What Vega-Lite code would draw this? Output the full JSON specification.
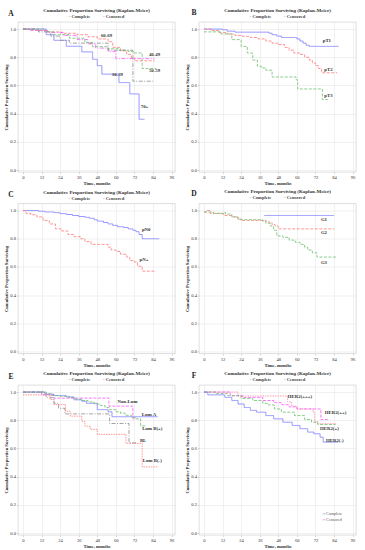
{
"$schema": "https://vega.github.io/schema/vega-lite/v6.json",
"padding": {"left": 2, "top": 7, "right": 2, "bottom": 1},
"background": "white",
"resolve": {"scale": {"color": "independent", "strokeDash": "independent"}},
"config": {
 "font": "Liberation Serif",
 "view": {"stroke": "#c8c8c8", "strokeWidth": 0.6},
 "axis": {"labelFontSize": 4.6, "titleFontSize": 4.6, "labelColor": "#333333", "titleColor": "#333333", "gridColor": "#e3e3e3", "gridWidth": 0.5, "domain": false, "tickSize": 1.5, "tickColor": "#aaaaaa", "tickWidth": 0.5, "labelPadding": 1, "titlePadding": 1.5, "titleFontWeight": "bold"},
 "title": {"fontSize": 5, "subtitleFontSize": 4.6, "fontWeight": "bold", "subtitleFontWeight": "bold", "color": "#333333", "subtitleColor": "#444444", "offset": -9.5, "subtitlePadding": 1, "anchor": "middle"},
 "text": {"font": "Liberation Serif"}
},
"datasets": {
 "km": [
  {"p":"A","g":"70+","t":0,"s":1},{"p":"A","g":"70+","t":15,"s":0.96},{"p":"A","g":"70+","t":20,"s":0.92},{"p":"A","g":"70+","t":28,"s":0.878},{"p":"A","g":"70+","t":38,"s":0.838},{"p":"A","g":"70+","t":45,"s":0.785},{"p":"A","g":"70+","t":48,"s":0.74},{"p":"A","g":"70+","t":51,"s":0.68},{"p":"A","g":"70+","t":62,"s":0.62},{"p":"A","g":"70+","t":69,"s":0.54},{"p":"A","g":"70+","t":75,"s":0.36},{"p":"A","g":"70+","t":78.5,"s":0.36},
  {"p":"A","g":"60-69","t":0,"s":1},{"p":"A","g":"60-69","t":8,"s":0.99},{"p":"A","g":"60-69","t":16,"s":0.98},{"p":"A","g":"60-69","t":25,"s":0.97},{"p":"A","g":"60-69","t":35,"s":0.96},{"p":"A","g":"60-69","t":42,"s":0.945},{"p":"A","g":"60-69","t":48,"s":0.93},{"p":"A","g":"60-69","t":55,"s":0.91},{"p":"A","g":"60-69","t":58,"s":0.87},{"p":"A","g":"60-69","t":63,"s":0.845},{"p":"A","g":"60-69","t":67,"s":0.82},{"p":"A","g":"60-69","t":70,"s":0.795},{"p":"A","g":"60-69","t":72,"s":0.775},{"p":"A","g":"60-69","t":85,"s":0.775},
  {"p":"A","g":"40-49","t":0,"s":1},{"p":"A","g":"40-49","t":5,"s":0.99},{"p":"A","g":"40-49","t":16,"s":0.975},{"p":"A","g":"40-49","t":26,"s":0.955},{"p":"A","g":"40-49","t":35,"s":0.925},{"p":"A","g":"40-49","t":42,"s":0.895},{"p":"A","g":"40-49","t":47,"s":0.865},{"p":"A","g":"40-49","t":55,"s":0.84},{"p":"A","g":"40-49","t":60,"s":0.79},{"p":"A","g":"40-49","t":85,"s":0.79},
  {"p":"A","g":"50-59","t":0,"s":1},{"p":"A","g":"50-59","t":14,"s":0.98},{"p":"A","g":"50-59","t":20,"s":0.96},{"p":"A","g":"50-59","t":30,"s":0.935},{"p":"A","g":"50-59","t":40,"s":0.905},{"p":"A","g":"50-59","t":45,"s":0.875},{"p":"A","g":"50-59","t":55,"s":0.86},{"p":"A","g":"50-59","t":62,"s":0.85},{"p":"A","g":"50-59","t":68,"s":0.84},{"p":"A","g":"50-59","t":72,"s":0.83},{"p":"A","g":"50-59","t":77,"s":0.72},{"p":"A","g":"50-59","t":86,"s":0.72},
  {"p":"A","g":"30-39","t":0,"s":1},{"p":"A","g":"30-39","t":10,"s":0.98},{"p":"A","g":"30-39","t":18,"s":0.95},{"p":"A","g":"30-39","t":24,"s":0.92},{"p":"A","g":"30-39","t":30,"s":0.9},{"p":"A","g":"30-39","t":55,"s":0.85},{"p":"A","g":"30-39","t":71,"s":0.63},{"p":"A","g":"30-39","t":84,"s":0.63},

  {"p":"B","g":"pT1","t":0,"s":1},{"p":"B","g":"pT1","t":12,"s":0.995},{"p":"B","g":"pT1","t":15,"s":0.985},{"p":"B","g":"pT1","t":20,"s":0.978},{"p":"B","g":"pT1","t":42,"s":0.97},{"p":"B","g":"pT1","t":44,"s":0.96},{"p":"B","g":"pT1","t":47,"s":0.95},{"p":"B","g":"pT1","t":50,"s":0.94},{"p":"B","g":"pT1","t":60,"s":0.93},{"p":"B","g":"pT1","t":62,"s":0.915},{"p":"B","g":"pT1","t":64,"s":0.9},{"p":"B","g":"pT1","t":66,"s":0.885},{"p":"B","g":"pT1","t":68,"s":0.877},{"p":"B","g":"pT1","t":87,"s":0.877},
  {"p":"B","g":"pT2","t":0,"s":1},{"p":"B","g":"pT2","t":5,"s":0.99},{"p":"B","g":"pT2","t":10,"s":0.975},{"p":"B","g":"pT2","t":15,"s":0.965},{"p":"B","g":"pT2","t":20,"s":0.955},{"p":"B","g":"pT2","t":25,"s":0.948},{"p":"B","g":"pT2","t":30,"s":0.94},{"p":"B","g":"pT2","t":35,"s":0.93},{"p":"B","g":"pT2","t":40,"s":0.915},{"p":"B","g":"pT2","t":44,"s":0.9},{"p":"B","g":"pT2","t":48,"s":0.89},{"p":"B","g":"pT2","t":52,"s":0.87},{"p":"B","g":"pT2","t":55,"s":0.85},{"p":"B","g":"pT2","t":58,"s":0.83},{"p":"B","g":"pT2","t":62,"s":0.82},{"p":"B","g":"pT2","t":65,"s":0.8},{"p":"B","g":"pT2","t":68,"s":0.78},{"p":"B","g":"pT2","t":70,"s":0.76},{"p":"B","g":"pT2","t":72,"s":0.74},{"p":"B","g":"pT2","t":74,"s":0.72},{"p":"B","g":"pT2","t":76,"s":0.69},{"p":"B","g":"pT2","t":86,"s":0.69},
  {"p":"B","g":"pT3","t":0,"s":0.98},{"p":"B","g":"pT3","t":11,"s":0.965},{"p":"B","g":"pT3","t":18,"s":0.925},{"p":"B","g":"pT3","t":24,"s":0.877},{"p":"B","g":"pT3","t":28,"s":0.83},{"p":"B","g":"pT3","t":31.5,"s":0.78},{"p":"B","g":"pT3","t":34.5,"s":0.736},{"p":"B","g":"pT3","t":37,"s":0.724},{"p":"B","g":"pT3","t":40,"s":0.708},{"p":"B","g":"pT3","t":44,"s":0.66},{"p":"B","g":"pT3","t":59.5,"s":0.64},{"p":"B","g":"pT3","t":60.5,"s":0.575},{"p":"B","g":"pT3","t":76.5,"s":0.5},{"p":"B","g":"pT3","t":80,"s":0.5},

  {"p":"C","g":"pN0","t":0,"s":1},{"p":"C","g":"pN0","t":10,"s":0.995},{"p":"C","g":"pN0","t":14,"s":0.99},{"p":"C","g":"pN0","t":20,"s":0.985},{"p":"C","g":"pN0","t":24,"s":0.978},{"p":"C","g":"pN0","t":28,"s":0.972},{"p":"C","g":"pN0","t":32,"s":0.965},{"p":"C","g":"pN0","t":36,"s":0.958},{"p":"C","g":"pN0","t":40,"s":0.952},{"p":"C","g":"pN0","t":43,"s":0.945},{"p":"C","g":"pN0","t":46,"s":0.935},{"p":"C","g":"pN0","t":48,"s":0.925},{"p":"C","g":"pN0","t":52,"s":0.915},{"p":"C","g":"pN0","t":55,"s":0.905},{"p":"C","g":"pN0","t":58,"s":0.895},{"p":"C","g":"pN0","t":61,"s":0.885},{"p":"C","g":"pN0","t":65,"s":0.88},{"p":"C","g":"pN0","t":68,"s":0.87},{"p":"C","g":"pN0","t":71,"s":0.86},{"p":"C","g":"pN0","t":73,"s":0.85},{"p":"C","g":"pN0","t":75,"s":0.83},{"p":"C","g":"pN0","t":77,"s":0.8},{"p":"C","g":"pN0","t":88,"s":0.8},
  {"p":"C","g":"pN+","t":0,"s":1},{"p":"C","g":"pN+","t":2,"s":0.98},{"p":"C","g":"pN+","t":5,"s":0.97},{"p":"C","g":"pN+","t":9,"s":0.955},{"p":"C","g":"pN+","t":13,"s":0.93},{"p":"C","g":"pN+","t":17,"s":0.905},{"p":"C","g":"pN+","t":21,"s":0.87},{"p":"C","g":"pN+","t":25,"s":0.855},{"p":"C","g":"pN+","t":29,"s":0.83},{"p":"C","g":"pN+","t":33,"s":0.815},{"p":"C","g":"pN+","t":37,"s":0.8},{"p":"C","g":"pN+","t":40,"s":0.78},{"p":"C","g":"pN+","t":44,"s":0.76},{"p":"C","g":"pN+","t":55,"s":0.74},{"p":"C","g":"pN+","t":57,"s":0.72},{"p":"C","g":"pN+","t":60,"s":0.71},{"p":"C","g":"pN+","t":63,"s":0.69},{"p":"C","g":"pN+","t":67,"s":0.67},{"p":"C","g":"pN+","t":69,"s":0.645},{"p":"C","g":"pN+","t":72,"s":0.635},{"p":"C","g":"pN+","t":74,"s":0.605},{"p":"C","g":"pN+","t":77,"s":0.57},{"p":"C","g":"pN+","t":86,"s":0.57},

  {"p":"D","g":"G1","t":39,"s":0.965},{"p":"D","g":"G1","t":84,"s":0.965},
  {"p":"D","g":"G2","t":0,"s":0.99},{"p":"D","g":"G2","t":2,"s":1},{"p":"D","g":"G2","t":4,"s":0.98},{"p":"D","g":"G2","t":12,"s":0.975},{"p":"D","g":"G2","t":13,"s":0.965},{"p":"D","g":"G2","t":18,"s":0.955},{"p":"D","g":"G2","t":22,"s":0.94},{"p":"D","g":"G2","t":24,"s":0.93},{"p":"D","g":"G2","t":40,"s":0.925},{"p":"D","g":"G2","t":42,"s":0.915},{"p":"D","g":"G2","t":44,"s":0.9},{"p":"D","g":"G2","t":46,"s":0.89},{"p":"D","g":"G2","t":48,"s":0.87},{"p":"D","g":"G2","t":84,"s":0.87},
  {"p":"D","g":"G3","t":0,"s":0.99},{"p":"D","g":"G3","t":6,"s":0.98},{"p":"D","g":"G3","t":13,"s":0.985},{"p":"D","g":"G3","t":14,"s":0.975},{"p":"D","g":"G3","t":18,"s":0.955},{"p":"D","g":"G3","t":22,"s":0.935},{"p":"D","g":"G3","t":38,"s":0.925},{"p":"D","g":"G3","t":40,"s":0.91},{"p":"D","g":"G3","t":43,"s":0.89},{"p":"D","g":"G3","t":45,"s":0.86},{"p":"D","g":"G3","t":47,"s":0.82},{"p":"D","g":"G3","t":51,"s":0.81},{"p":"D","g":"G3","t":55,"s":0.79},{"p":"D","g":"G3","t":59,"s":0.775},{"p":"D","g":"G3","t":62,"s":0.76},{"p":"D","g":"G3","t":65,"s":0.74},{"p":"D","g":"G3","t":67,"s":0.72},{"p":"D","g":"G3","t":70,"s":0.7},{"p":"D","g":"G3","t":73,"s":0.67},{"p":"D","g":"G3","t":86,"s":0.67},

  {"p":"E","g":"Non-Lum","t":0,"s":1},{"p":"E","g":"Non-Lum","t":12,"s":0.98},{"p":"E","g":"Non-Lum","t":20,"s":0.957},{"p":"E","g":"Non-Lum","t":55.5,"s":0.9},{"p":"E","g":"Non-Lum","t":71,"s":0.81},{"p":"E","g":"Non-Lum","t":73,"s":0.81},
  {"p":"E","g":"Lum A","t":0,"s":1},{"p":"E","g":"Lum A","t":14,"s":0.985},{"p":"E","g":"Lum A","t":20,"s":0.975},{"p":"E","g":"Lum A","t":28,"s":0.965},{"p":"E","g":"Lum A","t":33,"s":0.945},{"p":"E","g":"Lum A","t":38,"s":0.935},{"p":"E","g":"Lum A","t":41,"s":0.92},{"p":"E","g":"Lum A","t":48,"s":0.875},{"p":"E","g":"Lum A","t":55,"s":0.86},{"p":"E","g":"Lum A","t":57.5,"s":0.825},{"p":"E","g":"Lum A","t":87,"s":0.825},
  {"p":"E","g":"Lum B(+)","t":0,"s":1},{"p":"E","g":"Lum B(+)","t":15,"s":0.99},{"p":"E","g":"Lum B(+)","t":18,"s":0.975},{"p":"E","g":"Lum B(+)","t":24,"s":0.97},{"p":"E","g":"Lum B(+)","t":30,"s":0.96},{"p":"E","g":"Lum B(+)","t":34,"s":0.95},{"p":"E","g":"Lum B(+)","t":38,"s":0.94},{"p":"E","g":"Lum B(+)","t":42,"s":0.93},{"p":"E","g":"Lum B(+)","t":46,"s":0.915},{"p":"E","g":"Lum B(+)","t":50,"s":0.905},{"p":"E","g":"Lum B(+)","t":53,"s":0.89},{"p":"E","g":"Lum B(+)","t":56,"s":0.875},{"p":"E","g":"Lum B(+)","t":60,"s":0.86},{"p":"E","g":"Lum B(+)","t":63,"s":0.85},{"p":"E","g":"Lum B(+)","t":66,"s":0.835},{"p":"E","g":"Lum B(+)","t":70,"s":0.82},{"p":"E","g":"Lum B(+)","t":73,"s":0.81},{"p":"E","g":"Lum B(+)","t":76,"s":0.76},{"p":"E","g":"Lum B(+)","t":80,"s":0.76},
  {"p":"E","g":"BL","t":0,"s":1},{"p":"E","g":"BL","t":15,"s":0.96},{"p":"E","g":"BL","t":20,"s":0.92},{"p":"E","g":"BL","t":23,"s":0.885},{"p":"E","g":"BL","t":27,"s":0.845},{"p":"E","g":"BL","t":56,"s":0.777},{"p":"E","g":"BL","t":68.5,"s":0.64},{"p":"E","g":"BL","t":74,"s":0.64},
  {"p":"E","g":"Lum B(-)","t":0,"s":0.98},{"p":"E","g":"Lum B(-)","t":17.5,"s":0.947},{"p":"E","g":"Lum B(-)","t":20,"s":0.911},{"p":"E","g":"Lum B(-)","t":27.5,"s":0.864},{"p":"E","g":"Lum B(-)","t":30.5,"s":0.829},{"p":"E","g":"Lum B(-)","t":38,"s":0.793},{"p":"E","g":"Lum B(-)","t":40,"s":0.758},{"p":"E","g":"Lum B(-)","t":43.5,"s":0.735},{"p":"E","g":"Lum B(-)","t":48,"s":0.7},{"p":"E","g":"Lum B(-)","t":66.5,"s":0.636},{"p":"E","g":"Lum B(-)","t":77,"s":0.469},{"p":"E","g":"Lum B(-)","t":87,"s":0.469},

  {"p":"F","g":"HER2(+++)","t":0,"s":1},{"p":"F","g":"HER2(+++)","t":22,"s":0.972},{"p":"F","g":"HER2(+++)","t":54,"s":0.93},{"p":"F","g":"HER2(+++)","t":56.5,"s":0.9},{"p":"F","g":"HER2(+++)","t":60,"s":0.88},{"p":"F","g":"HER2(+++)","t":70.5,"s":0.855},{"p":"F","g":"HER2(+++)","t":71.5,"s":0.79},{"p":"F","g":"HER2(+++)","t":73.5,"s":0.775},{"p":"F","g":"HER2(+++)","t":86,"s":0.775},
  {"p":"F","g":"HER2(++)","t":0,"s":1},{"p":"F","g":"HER2(++)","t":17,"s":0.974},{"p":"F","g":"HER2(++)","t":25,"s":0.962},{"p":"F","g":"HER2(++)","t":38,"s":0.94},{"p":"F","g":"HER2(++)","t":45,"s":0.925},{"p":"F","g":"HER2(++)","t":50,"s":0.91},{"p":"F","g":"HER2(++)","t":55,"s":0.895},{"p":"F","g":"HER2(++)","t":60,"s":0.88},{"p":"F","g":"HER2(++)","t":75.5,"s":0.805},{"p":"F","g":"HER2(++)","t":80,"s":0.805},
  {"p":"F","g":"HER2(+)","t":0,"s":1},{"p":"F","g":"HER2(+)","t":8,"s":0.99},{"p":"F","g":"HER2(+)","t":15,"s":0.974},{"p":"F","g":"HER2(+)","t":24,"s":0.955},{"p":"F","g":"HER2(+)","t":31.5,"s":0.94},{"p":"F","g":"HER2(+)","t":38,"s":0.92},{"p":"F","g":"HER2(+)","t":41.5,"s":0.908},{"p":"F","g":"HER2(+)","t":45.5,"s":0.88},{"p":"F","g":"HER2(+)","t":50,"s":0.857},{"p":"F","g":"HER2(+)","t":58.5,"s":0.833},{"p":"F","g":"HER2(+)","t":65,"s":0.805},{"p":"F","g":"HER2(+)","t":69.5,"s":0.786},{"p":"F","g":"HER2(+)","t":73.5,"s":0.77},{"p":"F","g":"HER2(+)","t":85,"s":0.77},
  {"p":"F","g":"HER2(-)","t":0,"s":1},{"p":"F","g":"HER2(-)","t":2.5,"s":0.98},{"p":"F","g":"HER2(-)","t":13.5,"s":0.962},{"p":"F","g":"HER2(-)","t":18,"s":0.94},{"p":"F","g":"HER2(-)","t":22,"s":0.915},{"p":"F","g":"HER2(-)","t":26,"s":0.89},{"p":"F","g":"HER2(-)","t":30,"s":0.87},{"p":"F","g":"HER2(-)","t":34,"s":0.857},{"p":"F","g":"HER2(-)","t":40,"s":0.833},{"p":"F","g":"HER2(-)","t":45,"s":0.81},{"p":"F","g":"HER2(-)","t":51,"s":0.786},{"p":"F","g":"HER2(-)","t":57,"s":0.763},{"p":"F","g":"HER2(-)","t":62,"s":0.74},{"p":"F","g":"HER2(-)","t":67,"s":0.716},{"p":"F","g":"HER2(-)","t":71,"s":0.704},{"p":"F","g":"HER2(-)","t":75,"s":0.68},{"p":"F","g":"HER2(-)","t":77,"s":0.645},{"p":"F","g":"HER2(-)","t":86.5,"s":0.645}
 ],
 "lab": [
  {"p":"A","label":"60-69","t":54,"s":0.953},{"p":"A","label":"40-49","t":85,"s":0.815},{"p":"A","label":"50-59","t":85,"s":0.7},{"p":"A","label":"30-39","t":61,"s":0.674},{"p":"A","label":"70+","t":78.5,"s":0.444},
  {"p":"B","label":"pT1","t":79.4,"s":0.913},{"p":"B","label":"pT2","t":80.4,"s":0.712},{"p":"B","label":"pT3","t":80.4,"s":0.524},
  {"p":"C","label":"pN0","t":79.6,"s":0.862},{"p":"C","label":"pN+","t":78.2,"s":0.646},
  {"p":"D","label":"G1","t":77.5,"s":0.93},{"p":"D","label":"G2","t":77.5,"s":0.84},{"p":"D","label":"G3","t":77.5,"s":0.628},
  {"p":"E","label":"Non-Lum","t":67.5,"s":0.93},{"p":"E","label":"Lum A","t":81.4,"s":0.84},{"p":"E","label":"Lum B(+)","t":83.5,"s":0.737},{"p":"E","label":"BL","t":77.6,"s":0.653},{"p":"E","label":"Lum B(-)","t":83.5,"s":0.512},
  {"p":"F","label":"HER2(+++)","t":62,"s":0.967},{"p":"F","label":"HER2(++)","t":85,"s":0.852},{"p":"F","label":"HER2(+)","t":81,"s":0.74},{"p":"F","label":"HER2(-)","t":84.5,"s":0.653}
 ],
 "letters": [
  {"p":"A","letter":"A","t":-7.8,"s":1.11},{"p":"B","letter":"B","t":-6.4,"s":1.115},
  {"p":"C","letter":"C","t":-7.8,"s":1.11},{"p":"D","letter":"D","t":-6.4,"s":1.115},
  {"p":"E","letter":"E","t":-7.8,"s":1.11},{"p":"F","letter":"F","t":-6.4,"s":1.115}
 ]
},
"columns": 2,
"spacing": {"row": 2.5, "column": 7},
"concat": [
 {"width": 157, "height": 150,
  "title": {"text": "Cumulative Proportion Surviving (Kaplan-Meier)", "subtitle": "\u00b7 Complete\u00a0\u00a0\u00a0\u00a0\u00a0\u00a0\u00a0\u00a0\u00a0\u00a0\u00a0\u00b7 Censored"},
  "encoding": {
   "x": {"field": "t", "type": "quantitative", "scale": {"domain": [-3.2, 98.2], "nice": false, "zero": false}, "axis": {"values": [0,12,24,36,48,60,72,84,96], "title": "Time, months"}},
   "y": {"field": "s", "type": "quantitative", "scale": {"domain": [-0.014, 1.05], "nice": false, "zero": false}, "axis": {"values": [0,0.2,0.4,0.6,0.8,1.0], "format": ".1f", "title": "Cumulative Proportion Surviving"}}
  },
  "layer": [
   {"data": {"name": "km"}, "transform": [{"filter": "datum.p === 'A'"}],
    "mark": {"type": "line", "interpolate": "step-after", "strokeWidth": 0.8},
    "encoding": {
     "color": {"field": "g", "type": "nominal", "legend": null, "scale": {"domain": ["70+","60-69","40-49","50-59","30-39"], "range": ["#7b7bff","#ff7b7b","#ff55ff","#6fbf6f","#8c8c8c"]}},
     "strokeDash": {"field": "g", "type": "nominal", "legend": null, "scale": {"domain": ["70+","60-69","40-49","50-59","30-39"], "range": [[1,0],[3,1.5],[4,1.5,1,1.5],[3,1.5],[4,1.5,1,1.5]]}}
    }},
   {"data": {"name": "lab"}, "transform": [{"filter": "datum.p === 'A'"}],
    "mark": {"type": "text", "fontSize": 4.8, "fontWeight": "bold", "color": "#333333"},
    "encoding": {"text": {"field": "label"}}},
   {"data": {"name": "letters"}, "transform": [{"filter": "datum.p === 'A'"}],
    "mark": {"type": "text", "fontSize": 7.5, "fontWeight": "bold", "color": "#222222"},
    "encoding": {"text": {"field": "letter"}}}
  ]},
 {"width": 157, "height": 150,
  "title": {"text": "Cumulative Proportion Surviving (Kaplan-Meier)", "subtitle": "\u00b7 Complete\u00a0\u00a0\u00a0\u00a0\u00a0\u00a0\u00a0\u00a0\u00a0\u00a0\u00a0\u00b7 Censored"},
  "encoding": {
   "x": {"field": "t", "type": "quantitative", "scale": {"domain": [-3.2, 98.2], "nice": false, "zero": false}, "axis": {"values": [0,12,24,36,48,60,72,84,96], "title": "Time, months"}},
   "y": {"field": "s", "type": "quantitative", "scale": {"domain": [-0.014, 1.05], "nice": false, "zero": false}, "axis": {"values": [0,0.2,0.4,0.6,0.8,1.0], "format": ".1f", "title": "Cumulative Proportion Surviving"}}
  },
  "layer": [
   {"data": {"name": "km"}, "transform": [{"filter": "datum.p === 'B'"}],
    "mark": {"type": "line", "interpolate": "step-after", "strokeWidth": 0.8},
    "encoding": {
     "color": {"field": "g", "type": "nominal", "legend": null, "scale": {"domain": ["pT1","pT2","pT3"], "range": ["#7b7bff","#ff7b7b","#6fbf6f"]}},
     "strokeDash": {"field": "g", "type": "nominal", "legend": null, "scale": {"domain": ["pT1","pT2","pT3"], "range": [[1,0],[3,1.5],[3,1.5]]}}
    }},
   {"data": {"name": "lab"}, "transform": [{"filter": "datum.p === 'B'"}],
    "mark": {"type": "text", "fontSize": 4.8, "fontWeight": "bold", "color": "#333333"},
    "encoding": {"text": {"field": "label"}}},
   {"data": {"name": "letters"}, "transform": [{"filter": "datum.p === 'B'"}],
    "mark": {"type": "text", "fontSize": 7.5, "fontWeight": "bold", "color": "#222222"},
    "encoding": {"text": {"field": "letter"}}}
  ]},
 {"width": 157, "height": 150,
  "title": {"text": "Cumulative Proportion Surviving (Kaplan-Meier)", "subtitle": "\u00b7 Complete\u00a0\u00a0\u00a0\u00a0\u00a0\u00a0\u00a0\u00a0\u00a0\u00a0\u00a0\u00b7 Censored"},
  "encoding": {
   "x": {"field": "t", "type": "quantitative", "scale": {"domain": [-3.2, 98.2], "nice": false, "zero": false}, "axis": {"values": [0,12,24,36,48,60,72,84,96], "title": "Time, months"}},
   "y": {"field": "s", "type": "quantitative", "scale": {"domain": [-0.014, 1.05], "nice": false, "zero": false}, "axis": {"values": [0,0.2,0.4,0.6,0.8,1.0], "format": ".1f", "title": "Cumulative Proportion Surviving"}}
  },
  "layer": [
   {"data": {"name": "km"}, "transform": [{"filter": "datum.p === 'C'"}],
    "mark": {"type": "line", "interpolate": "step-after", "strokeWidth": 0.8},
    "encoding": {
     "color": {"field": "g", "type": "nominal", "legend": null, "scale": {"domain": ["pN0","pN+"], "range": ["#7b7bff","#ff7b7b"]}},
     "strokeDash": {"field": "g", "type": "nominal", "legend": null, "scale": {"domain": ["pN0","pN+"], "range": [[1,0],[3,1.5]]}}
    }},
   {"data": {"name": "lab"}, "transform": [{"filter": "datum.p === 'C'"}],
    "mark": {"type": "text", "fontSize": 4.8, "fontWeight": "bold", "color": "#333333"},
    "encoding": {"text": {"field": "label"}}},
   {"data": {"name": "letters"}, "transform": [{"filter": "datum.p === 'C'"}],
    "mark": {"type": "text", "fontSize": 7.5, "fontWeight": "bold", "color": "#222222"},
    "encoding": {"text": {"field": "letter"}}}
  ]},
 {"width": 157, "height": 150,
  "title": {"text": "Cumulative Proportion Surviving (Kaplan-Meier)", "subtitle": "\u00b7 Complete\u00a0\u00a0\u00a0\u00a0\u00a0\u00a0\u00a0\u00a0\u00a0\u00a0\u00a0\u00b7 Censored"},
  "encoding": {
   "x": {"field": "t", "type": "quantitative", "scale": {"domain": [-3.2, 98.2], "nice": false, "zero": false}, "axis": {"values": [0,12,24,36,48,60,72,84,96], "title": "Time, months"}},
   "y": {"field": "s", "type": "quantitative", "scale": {"domain": [-0.014, 1.05], "nice": false, "zero": false}, "axis": {"values": [0,0.2,0.4,0.6,0.8,1.0], "format": ".1f", "title": "Cumulative Proportion Surviving"}}
  },
  "layer": [
   {"data": {"name": "km"}, "transform": [{"filter": "datum.p === 'D'"}],
    "mark": {"type": "line", "interpolate": "step-after", "strokeWidth": 0.8},
    "encoding": {
     "color": {"field": "g", "type": "nominal", "legend": null, "scale": {"domain": ["G1","G2","G3"], "range": ["#7b7bff","#ff7b7b","#6fbf6f"]}},
     "strokeDash": {"field": "g", "type": "nominal", "legend": null, "scale": {"domain": ["G1","G2","G3"], "range": [[1,0],[3,1.5],[3,1.5]]}}
    }},
   {"data": {"name": "lab"}, "transform": [{"filter": "datum.p === 'D'"}],
    "mark": {"type": "text", "fontSize": 4.8, "fontWeight": "bold", "color": "#333333"},
    "encoding": {"text": {"field": "label"}}},
   {"data": {"name": "letters"}, "transform": [{"filter": "datum.p === 'D'"}],
    "mark": {"type": "text", "fontSize": 7.5, "fontWeight": "bold", "color": "#222222"},
    "encoding": {"text": {"field": "letter"}}}
  ]},
 {"width": 157, "height": 150,
  "title": {"text": "Cumulative Proportion Surviving (Kaplan-Meier)", "subtitle": "\u00b7 Complete\u00a0\u00a0\u00a0\u00a0\u00a0\u00a0\u00a0\u00a0\u00a0\u00a0\u00a0\u00b7 Censored"},
  "encoding": {
   "x": {"field": "t", "type": "quantitative", "scale": {"domain": [-3.2, 98.2], "nice": false, "zero": false}, "axis": {"values": [0,12,24,36,48,60,72,84,96], "title": "Time, months"}},
   "y": {"field": "s", "type": "quantitative", "scale": {"domain": [-0.014, 1.05], "nice": false, "zero": false}, "axis": {"values": [0,0.2,0.4,0.6,0.8,1.0], "format": ".1f", "title": "Cumulative Proportion Surviving"}}
  },
  "layer": [
   {"data": {"name": "km"}, "transform": [{"filter": "datum.p === 'E'"}],
    "mark": {"type": "line", "interpolate": "step-after", "strokeWidth": 0.8},
    "encoding": {
     "color": {"field": "g", "type": "nominal", "legend": null, "scale": {"domain": ["Lum A","Non-Lum","Lum B(+)","BL","Lum B(-)"], "range": ["#7b7bff","#ff55ff","#6fbf6f","#8c8c8c","#ff7b7b"]}},
     "strokeDash": {"field": "g", "type": "nominal", "legend": null, "scale": {"domain": ["Lum A","Non-Lum","Lum B(+)","BL","Lum B(-)"], "range": [[1,0],[3,1.5],[3,1.5],[4,1.5,1,1.5],[1.5,1]]}}
    }},
   {"data": {"name": "lab"}, "transform": [{"filter": "datum.p === 'E'"}],
    "mark": {"type": "text", "fontSize": 4.8, "fontWeight": "bold", "color": "#333333"},
    "encoding": {"text": {"field": "label"}}},
   {"data": {"name": "letters"}, "transform": [{"filter": "datum.p === 'E'"}],
    "mark": {"type": "text", "fontSize": 7.5, "fontWeight": "bold", "color": "#222222"},
    "encoding": {"text": {"field": "letter"}}}
  ]},
 {"width": 157, "height": 150,
  "title": {"text": "Cumulative Proportion Surviving (Kaplan-Meier)", "subtitle": "\u00b7 Complete\u00a0\u00a0\u00a0\u00a0\u00a0\u00a0\u00a0\u00a0\u00a0\u00a0\u00a0\u00b7 Censored"},
  "encoding": {
   "x": {"field": "t", "type": "quantitative", "scale": {"domain": [-3.2, 98.2], "nice": false, "zero": false}, "axis": {"values": [0,12,24,36,48,60,72,84,96], "title": "Time, months"}},
   "y": {"field": "s", "type": "quantitative", "scale": {"domain": [-0.014, 1.05], "nice": false, "zero": false}, "axis": {"values": [0,0.2,0.4,0.6,0.8,1.0], "format": ".1f", "title": "Cumulative Proportion Surviving"}}
  },
  "layer": [
   {"data": {"name": "km"}, "transform": [{"filter": "datum.p === 'F'"}],
    "mark": {"type": "line", "interpolate": "step-after", "strokeWidth": 0.8},
    "encoding": {
     "color": {"field": "g", "type": "nominal", "legend": null, "scale": {"domain": ["HER2(-)","HER2(+)","HER2(++)","HER2(+++)"], "range": ["#7b7bff","#6fbf6f","#ff55ff","#ff8aa8"]}},
     "strokeDash": {"field": "g", "type": "nominal", "legend": null, "scale": {"domain": ["HER2(-)","HER2(+)","HER2(++)","HER2(+++)"], "range": [[1,0],[3,1.5],[3,1.5],[1.5,1]]}}
    }},
   {"data": {"name": "lab"}, "transform": [{"filter": "datum.p === 'F'"}],
    "mark": {"type": "text", "fontSize": 4.8, "fontWeight": "bold", "color": "#333333"},
    "encoding": {"text": {"field": "label"}}},
   {"data": {"values": [{"k": "Complete", "t": 84, "s": 0.136}, {"k": "Censored", "t": 84, "s": 0.094}]},
    "mark": {"type": "text", "fontSize": 4.2, "color": "#555555"},
    "encoding": {"text": {"field": "k"}}},
   {"data": {"values": [{"k": "Complete", "t": 84, "s": 0.136}, {"k": "Censored", "t": 84, "s": 0.094}]},
    "mark": {"type": "point", "shape": "stroke", "size": 6, "strokeWidth": 0.8, "filled": false},
    "encoding": {"x": {"datum": 77.5}, "color": {"condition": {"test": "datum.k === 'Complete'", "value": "#7b7bff"}, "value": "#ff55ff"}}},
   {"data": {"name": "letters"}, "transform": [{"filter": "datum.p === 'F'"}],
    "mark": {"type": "text", "fontSize": 7.5, "fontWeight": "bold", "color": "#222222"},
    "encoding": {"text": {"field": "letter"}}}
  ]}
]
}
